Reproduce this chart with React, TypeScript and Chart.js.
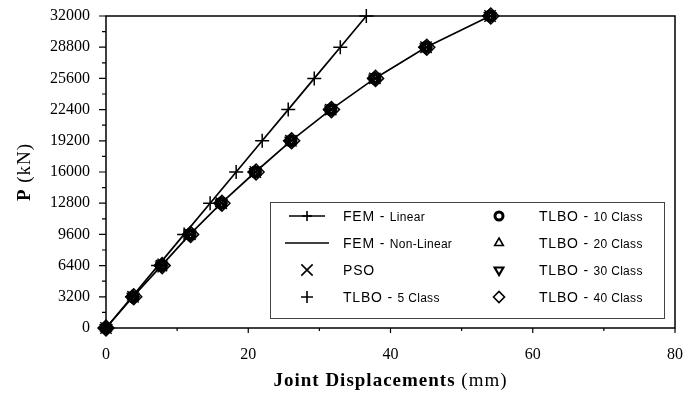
import React, { useEffect, useRef } from 'react';
import { Chart, registerables } from 'chart.js';
import { drawPoint } from 'chart.js/helpers';

Chart.register(...registerables);

// Load levels (kN)
const loads = [0, 3200, 6400, 9600, 12800, 16000, 19200, 22400, 25600, 28800, 32000];
// Joint displacements (mm)
const femLinear = [0, 3.66, 7.32, 10.98, 14.64, 18.3, 21.96, 25.62, 29.28, 32.94, 36.6];
const femNonLinear = [0, 3.8, 7.8, 11.8, 16.2, 21.0, 26.0, 31.6, 37.8, 45.0, 54.0];
const pso = [0, 3.8, 7.8, 11.8, 16.2, 21.0, 26.0, 31.6, 37.8, 45.0, 54.0];
const tlbo5 = [0, 3.8, 7.8, 11.7, 16.1, 20.9, 25.9, 31.5, 37.7, 44.9, 53.9];
const tlbo10 = [0, 3.8, 7.8, 11.8, 16.2, 21.0, 26.0, 31.6, 37.8, 45.0, 54.0];
const tlbo20 = [0, 3.8, 7.8, 11.8, 16.2, 21.0, 26.0, 31.6, 37.8, 45.0, 54.0];
const tlbo30 = [0, 3.8, 7.8, 11.8, 16.2, 21.0, 26.0, 31.6, 37.8, 45.0, 54.0];
const tlbo40 = [0, 3.9, 7.9, 11.9, 16.3, 21.1, 26.1, 31.7, 37.9, 45.1, 54.1];

const yTicks = [0, 3200, 6400, 9600, 12800, 16000, 19200, 22400, 25600, 28800, 32000];
const yMinorTicks = [1600, 4800, 8000, 11200, 14400, 17600, 20800, 24000, 27200, 30400];
const xTicks = [0, 20, 40, 60, 80];
const xMinorTicks = [10, 30, 50, 70];

const legendMain = ['FEM - ', 'FEM - ', 'PSO', 'TLBO - ', 'TLBO - ', 'TLBO - ', 'TLBO - ', 'TLBO - '];
const legendSub = ['Linear', 'Non-Linear', '', '5 Class', '10 Class', '20 Class', '30 Class', '40 Class'];

const xTitleBold = 'Joint Displacements';
const xTitleRegular = ' (mm)';
const yTitleBold = 'P';
const yTitleRegular = ' (kN)';

const toPts = (xs: number[]) => xs.map((x, i) => ({ x, y: loads[i] }));

type Marker = { style: any; radius: number; rotation: number; width: number; line: boolean; legendRadius: number };

const markers: Marker[] = [
  { style: 'cross', radius: 7, rotation: 0, width: 1.5, line: true, legendRadius: 5 },
  { style: false, radius: 0, rotation: 0, width: 1.5, line: true, legendRadius: 0 },
  { style: 'crossRot', radius: 8, rotation: 0, width: 1.5, line: false, legendRadius: 8 },
  { style: 'cross', radius: 7, rotation: 0, width: 1.5, line: false, legendRadius: 6 },
  { style: 'circle', radius: 5, rotation: 0, width: 3, line: false, legendRadius: 4 },
  { style: 'triangle', radius: 6, rotation: 0, width: 1.5, line: false, legendRadius: 5 },
  { style: 'triangle', radius: 6, rotation: 180, width: 2, line: false, legendRadius: 5 },
  { style: 'rectRot', radius: 8, rotation: 0, width: 1.5, line: false, legendRadius: 5.5 },
];

const seriesData = [femLinear, femNonLinear, pso, tlbo5, tlbo10, tlbo20, tlbo30, tlbo40];

const decorPlugin = {
  id: 'decor',
  afterDraw(chart: any) {
    const ctx: CanvasRenderingContext2D = chart.ctx;
    const { left, right, top, bottom } = chart.chartArea;
    const xs = chart.scales.x;
    const ys = chart.scales.y;
    ctx.save();
    ctx.strokeStyle = '#000';
    ctx.lineWidth = 1.5;
    ctx.strokeRect(left, top, right - left, bottom - top);
    ctx.lineWidth = 1.2;
    ctx.beginPath();
    yTicks.forEach((v) => {
      const y = ys.getPixelForValue(v);
      ctx.moveTo(left - 7, y);
      ctx.lineTo(left, y);
    });
    yMinorTicks.forEach((v) => {
      const y = ys.getPixelForValue(v);
      ctx.moveTo(left - 4, y);
      ctx.lineTo(left, y);
    });
    xTicks.forEach((v) => {
      const x = xs.getPixelForValue(v);
      ctx.moveTo(x, bottom);
      ctx.lineTo(x, bottom + 5);
    });
    xMinorTicks.forEach((v) => {
      const x = xs.getPixelForValue(v);
      ctx.moveTo(x, bottom);
      ctx.lineTo(x, bottom + 3);
    });
    ctx.stroke();

    // Axis titles
    ctx.fillStyle = '#000';
    ctx.textBaseline = 'middle';
    (ctx as any).letterSpacing = '1px';
    ctx.font = 'bold 19px "Liberation Serif"';
    const wb = ctx.measureText(xTitleBold).width;
    ctx.font = '19px "Liberation Serif"';
    const wr = ctx.measureText(xTitleRegular).width;
    const sx = (left + right) / 2 - (wb + wr) / 2;
    ctx.textAlign = 'left';
    ctx.font = 'bold 19px "Liberation Serif"';
    ctx.fillText(xTitleBold, sx, 381);
    ctx.font = '19px "Liberation Serif"';
    ctx.fillText(xTitleRegular, sx + wb, 381);

    ctx.save();
    ctx.translate(25, (top + bottom) / 2);
    ctx.rotate(-Math.PI / 2);
    ctx.font = 'bold 19px "Liberation Serif"';
    const yb = ctx.measureText(yTitleBold).width;
    ctx.font = '19px "Liberation Serif"';
    const yr = ctx.measureText(yTitleRegular).width;
    const sy = -(yb + yr) / 2;
    ctx.font = 'bold 19px "Liberation Serif"';
    ctx.fillText(yTitleBold, sy, 0);
    ctx.font = '19px "Liberation Serif"';
    ctx.fillText(yTitleRegular, sy + yb, 0);
    ctx.restore();
    (ctx as any).letterSpacing = '0px';

    // Legend
    const bx = 270, by = 202, bw = 394, bh = 116;
    ctx.fillStyle = '#fff';
    ctx.fillRect(bx, by, bw, bh);
    ctx.strokeStyle = '#444';
    ctx.lineWidth = 1;
    ctx.strokeRect(bx + 0.5, by + 0.5, bw, bh);
    const rowY = [216, 243, 270, 297];
    const colSym = [307, 499];
    const colText = [343, 539];
    for (let i = 0; i < legendMain.length; i++) {
      const col = Math.floor(i / 4);
      const row = i % 4;
      const cy = rowY[row];
      const cx = colSym[col];
      const m = markers[i];
      ctx.strokeStyle = '#000';
      ctx.fillStyle = 'rgba(0,0,0,0)';
      if (m.line) {
        ctx.lineWidth = 1.5;
        ctx.beginPath();
        const half = m.style ? 18 : 22;
        ctx.moveTo(cx - half, cy);
        ctx.lineTo(cx + half, cy);
        ctx.stroke();
      }
      if (m.style) {
        const lw = m.style === 'circle' ? 3 : m.rotation ? 2.2 : 1.6;
        ctx.lineWidth = lw;
        drawPoint(ctx, { pointStyle: m.style, radius: m.legendRadius, rotation: m.rotation, borderWidth: lw } as any, cx, cy);
      }
      ctx.fillStyle = '#000';
      ctx.textAlign = 'left';
      ctx.textBaseline = 'alphabetic';
      ctx.font = '14px "Liberation Sans"';
      (ctx as any).letterSpacing = '0.8px';
      ctx.fillText(legendMain[i], colText[col], cy + 5);
      const w = ctx.measureText(legendMain[i]).width;
      (ctx as any).letterSpacing = '0.3px';
      ctx.font = '12px "Liberation Sans"';
      ctx.fillText(legendSub[i], colText[col] + w, cy + 5);
      (ctx as any).letterSpacing = '0px';
    }
    ctx.restore();
  },
};

export default function App() {
  const ref = useRef<HTMLCanvasElement>(null);
  useEffect(() => {
    if (!ref.current) return;
    const datasets = seriesData.map((d, i) => {
      const m = markers[i];
      return {
        label: (legendMain[i] + legendSub[i]).trim(),
        data: toPts(d),
        showLine: m.line,
        borderColor: '#000',
        borderWidth: 1.7,
        pointStyle: m.style,
        pointRadius: m.style ? m.radius : 0,
        pointRotation: m.rotation,
        pointBorderWidth: m.width,
        pointBorderColor: '#000',
        pointBackgroundColor: 'rgba(0,0,0,0)',
        clip: false as any,
      };
    });
    const chart = new Chart(ref.current, {
      type: 'scatter',
      data: { datasets: datasets as any },
      options: {
        animation: false,
        responsive: false,
        devicePixelRatio: 1,
        layout: { padding: { left: 0, right: 20, top: 16, bottom: 0 } },
        plugins: { legend: { display: false }, tooltip: { enabled: false } },
        scales: {
          x: {
            type: 'linear',
            min: 0,
            max: 80,
            grid: { display: false, drawTicks: false },
            border: { display: false },
            ticks: {
              stepSize: 20,
              padding: 17,
              color: '#000',
              font: { family: '"Liberation Serif"', size: 16 },
            },
            afterFit: (s: any) => { s.height = 66; s.paddingLeft = 0; s.paddingRight = 0; },
          },
          y: {
            type: 'linear',
            min: 0,
            max: 32000,
            grid: { display: false, drawTicks: false },
            border: { display: false },
            afterBuildTicks: (s: any) => { s.ticks = yTicks.map((v) => ({ value: v })); },
            ticks: {
              padding: 16,
              color: '#000',
              font: { family: '"Liberation Serif"', size: 16 },
              callback: (v: any) => String(v),
            },
            afterFit: (s: any) => { s.width = 106; s.paddingTop = 0; s.paddingBottom = 0; },
          },
        },
      },
      plugins: [decorPlugin],
    });
    return () => chart.destroy();
  }, []);
  return (
    <div style={{ position: 'fixed', left: 0, top: 0, width: 695, height: 394, background: '#fff' }}>
      <canvas ref={ref} width={695} height={394} style={{ width: 695, height: 394 }} />
    </div>
  );
}
